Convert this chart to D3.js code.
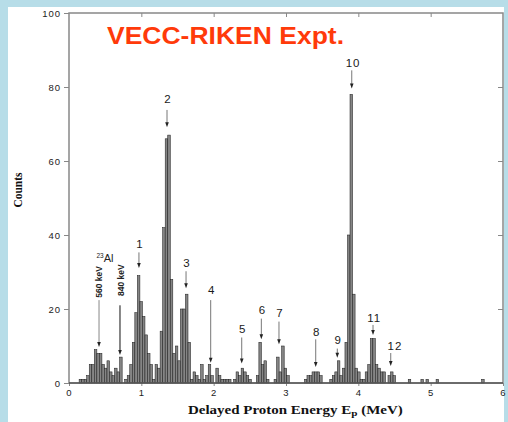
<!DOCTYPE html>
<html><head><meta charset="utf-8">
<script src="https://cdn.jsdelivr.net/npm/d3@7/dist/d3.min.js"></script>
<style>body{margin:0;padding:0;background:#fff}svg{display:block}</style>
</head><body>
<svg id="c" width="508" height="422"></svg>
<script>
// ---- data ----
const binWidth = 0.035; // MeV per histogram bin, bins start at 0
const counts = [
 0,0,0,0,1,1,1,2,5,5, 9,8,8,5,4,6,3,2,4,3,
 7,0,1,2,5,11,19,29,22,18, 13,8,5,1,5,4,14,42,66,67,
 28,8,10,6,20,20,24,11,1,3, 2,1,5,1,2,5,2,0,4,2,
 1,1,1,1,0,1,3,2,4,3, 2,1,0,0,2,11,5,6,1,0,
 0,1,7,3,10,4,2,0,0,0, 0,0,0,1,2,2,3,3,3,2,
 0,0,0,1,2,3,6,2,4,11, 40,78,24,4,3,1,1,3,5,12,
 12,5,4,3,3,0,2,3,2,0, 0,0,0,0,1,0,0,0,0,1,
 0,1,0,0,0,1,0,0,0,0, 0,0,0,0,0,0,0,0,0,0,
 0,0,0,1
];
const xTicks = [0,1,2,3,4,5,6];
const yTicks = [0,20,40,60,80,100];
const peakLabels = ["1","2","3","4","5","6","7","8","9","10","11","12"];
const peakE      = [0.967,1.355,1.618,1.959,2.388,2.659,2.903,3.411,3.709,3.909,4.203,4.448];
const labelE     = [0.967,1.355,1.618,1.959,2.388,2.659,2.903,3.411,3.709,3.92,4.213,4.50];
const labelCnt   = [36.5,75.7,31.4,24.1,13.5,18.6,17.8,12.7,10.6,85.5,16.6,8.9];
const arrowTop   = [35.3,73.8,30.2,22.4,12.3,17.4,16.6,11.8,9.3,84.5,15.7,8.1];
const arrowTip   = [31.1,69.1,25.6,5.5,5.3,11.8,10.5,4.3,6.8,79.6,13.0,4.6];
const alLabels   = ["560 keV","840 keV"];
const alE        = [0.415,0.705];
const alLabelE   = [0.45,0.765];
const alLabelCnt = [27.3,27.8];
const alTop      = [22.4,21.0];
const alTip      = [9.7,7.6];
const title = "VECC-RIKEN Expt.";

// ---- drawing ----
const svg = d3.select("#c");
svg.append("rect").attr("width",508).attr("height",422).attr("fill","#b7dde8");
svg.append("rect").attr("x",8).attr("y",7).attr("width",496).attr("height",415).attr("fill","#fff");

const x = d3.scaleLinear().domain([0,6]).range([69,503]);
const y = d3.scaleLinear().domain([0,100]).range([383,13]);

// bars
const bins = counts.map((c,i)=>({i,c})).filter(d=>d.c>0);
svg.append("g").selectAll("rect").data(bins).join("rect")
  .attr("x",d=>x(d.i*binWidth))
  .attr("width",d=>x((d.i+1)*binWidth)-x(d.i*binWidth))
  .attr("y",d=>y(d.c))
  .attr("height",d=>y(0)-y(d.c))
  .attr("fill","#858585").attr("stroke","#222").attr("stroke-width",0.55);

// axes
const tickFont = g=>g.selectAll("text").attr("font-family","Liberation Sans, Arial, sans-serif")
   .attr("font-size","9.5px").attr("fill","#222").attr("letter-spacing","1px");
const gl = svg.append("g").attr("transform","translate(69,0)")
  .call(d3.axisLeft(y).tickValues(yTicks).tickSize(5).tickPadding(3));
gl.call(tickFont);
const gb = svg.append("g").attr("transform","translate(0,383)")
  .call(d3.axisBottom(x).tickValues(xTicks).tickSize(3).tickPadding(3).tickFormat(d3.format("d")));
gb.call(tickFont);
const gt = svg.append("g").attr("transform","translate(0,13)")
  .call(d3.axisTop(x).tickValues(xTicks.slice(1,-1)).tickSize(-4).tickFormat(""));
const gr = svg.append("g").attr("transform","translate(503,0)")
  .call(d3.axisRight(y).tickValues(yTicks.slice(1,-1)).tickSize(-5).tickFormat(""));
[gl,gb,gt,gr].forEach(g=>{g.select(".domain").remove();g.selectAll("line").attr("stroke","#888").attr("stroke-width",1);});

// frame
svg.append("rect").attr("x",x(0)).attr("y",y(100)).attr("width",x(6)-x(0)).attr("height",y(0)-y(100))
  .attr("fill","none").attr("stroke","#888").attr("stroke-width",1.5);
svg.append("line").attr("x1",x(0)).attr("x2",x(6)).attr("y1",y(0)).attr("y2",y(0))
  .attr("stroke","#333").attr("stroke-width",1);

// arrows helper
function arrow(g,xe,c0,c1,col){
  const xx=x(xe), ya=y(c0), yb=y(c1);
  g.append("line").attr("x1",xx).attr("x2",xx).attr("y1",ya).attr("y2",yb-4)
    .attr("stroke",col).attr("stroke-width",1);
  g.append("path").attr("d",`M${xx-1.8},${yb-5}L${xx+1.8},${yb-5}L${xx},${yb}Z`).attr("fill","#222");
}
const ann = svg.append("g");
peakLabels.forEach((t,k)=>{
  ann.append("text").attr("x",x(labelE[k])+0.5).attr("y",y(labelCnt[k]))
    .attr("text-anchor","middle").attr("font-family","Liberation Sans, Arial, sans-serif")
    .attr("font-size","11.5px").attr("letter-spacing",t.length>1?"1px":"0").attr("fill","#1a1a1a").text(t);
  arrow(ann,peakE[k],arrowTop[k],arrowTip[k],"#777");
});
alLabels.forEach((t,k)=>{
  ann.append("text").attr("transform",`translate(${x(alLabelE[k])},${y(alLabelCnt[k])}) rotate(-90)`)
    .attr("text-anchor","middle").attr("font-family","Liberation Sans Narrow, Liberation Sans, Arial, sans-serif")
    .attr("font-weight","bold").attr("font-size","8.5px").attr("fill","#222").text(t);
  arrow(ann,alE[k],alTop[k],alTip[k],k===0?"#888":"#111");
});
// 23Al
const al = ann.append("text").attr("x",x(0.38)).attr("y",y(32.7))
  .attr("font-family","Liberation Sans, Arial, sans-serif").attr("fill","#222");
al.append("tspan").attr("font-size","6.5px").attr("dy","-4").text("23");
al.append("tspan").attr("font-size","11px").attr("dy","4").text("Al");

// title
svg.append("text").attr("x",107).attr("y",44).attr("textLength",237).attr("lengthAdjust","spacingAndGlyphs")
  .attr("font-family","Liberation Sans, Arial, sans-serif").attr("font-weight","bold")
  .attr("font-size","24px").attr("fill","#ff3a0a").text(title);

// axis titles
const xl = svg.append("text").attr("x",0).attr("y",0)
  .attr("font-family","Liberation Serif, Times New Roman, serif").attr("font-weight","bold")
  .attr("font-size","12px").attr("fill","#111");
xl.append("tspan").text("Delayed Proton Energy E");
xl.append("tspan").attr("font-size","9px").attr("dy","2").text("p");
xl.append("tspan").attr("dy","-2").text(" (MeV)");
const bw = xl.node().getComputedTextLength();
xl.attr("transform",`translate(188,413.5) scale(${215/bw},1)`);

const yl = svg.append("text").attr("text-anchor","middle")
  .attr("font-family","Liberation Serif, Times New Roman, serif").attr("font-weight","bold")
  .attr("font-size","12px").attr("fill","#111").text("Counts");
const yw = yl.node().getComputedTextLength();
yl.attr("transform",`translate(22,190) rotate(-90) scale(${35/yw},1.1)`);
</script>
</body></html>
